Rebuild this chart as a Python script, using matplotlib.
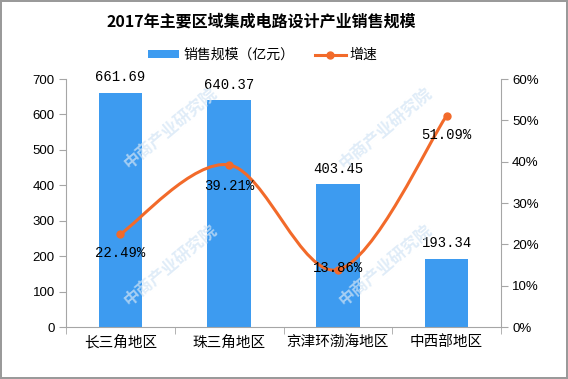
import matplotlib
matplotlib.use("Agg")
import matplotlib.pyplot as plt
from matplotlib.path import Path
from matplotlib.patches import PathPatch
import numpy as np

plt.rcParams['font.family'] = ['Noto Sans CJK SC', 'DejaVu Sans']

# data
regions = ["长三角地区", "珠三角地区", "京津环渤海地区", "中西部地区"]
sales = [661.69, 640.37, 403.45, 193.34]
growth = [22.49, 39.21, 13.86, 51.09]
left_ticks = [0, 100, 200, 300, 400, 500, 600, 700]
right_ticks = [0, 10, 20, 30, 40, 50, 60]

title = "2017年主要区域集成电路设计产业销售规模"
bar_name = "销售规模（亿元）"
line_name = "增速"

bar_color = "#3d9bf0"
line_color = "#f26a2a"
axis_gray = "#a6a6a6"
num_font = "Liberation Mono"


def smooth_path(xs, ys):
    # Catmull-Rom style bezier, like the "smoothed line" option in Excel
    pts = np.column_stack([xs, ys]).astype(float)
    ext = np.vstack([pts[0], pts, pts[-1]])
    verts = [tuple(pts[0])]
    codes = [Path.MOVETO]
    for i in range(len(pts) - 1):
        p0, p1, p2, p3 = ext[i], ext[i + 1], ext[i + 2], ext[i + 3]
        c1 = p1 + (p2 - p0) / 6.0
        c2 = p2 - (p3 - p1) / 6.0
        verts += [tuple(c1), tuple(c2), tuple(p2)]
        codes += [Path.CURVE4] * 3
    return Path(verts, codes)


fig = plt.figure(figsize=(5.68, 3.79), dpi=100)
fig.patch.set_edgecolor("#9a9a9a")
fig.patch.set_linewidth(1.5)

# faint watermark
for wx, wy in [(0.3, 0.66), (0.68, 0.66), (0.3, 0.3), (0.68, 0.3)]:
    fig.text(wx, wy, "中商产业研究院", fontsize=12, color="#d3e5f5", alpha=0.7,
             rotation=40, ha="center", va="center", zorder=0, fontweight="bold")

ax = fig.add_axes([66 / 568, 52 / 379, 435 / 568, 248 / 379])
ax.patch.set_alpha(0)
x = np.arange(len(regions))
bars = ax.bar(x, sales, width=0.4, color=bar_color, label=bar_name, zorder=2)

ax.set_xlim(-0.5, len(regions) - 0.5)
ax.set_ylim(0, 700)
ax.set_yticks(left_ticks)
ax.set_yticklabels([str(t) for t in left_ticks], family="Liberation Sans", fontsize=9.5)
ax.set_xticks(x)
ax.set_xticklabels(regions, fontsize=10.5)
ax.tick_params(axis="x", length=0, pad=6)
ax.set_xticks(np.arange(-0.5, len(regions)), minor=True)
ax.tick_params(axis="x", which="minor", length=5, color=axis_gray, direction="out")
ax.tick_params(axis="y", length=5, color=axis_gray, pad=3)
for s in ["top", "right"]:
    ax.spines[s].set_visible(False)
for s in ["left", "bottom"]:
    ax.spines[s].set_color(axis_gray)

for xi, v in zip(x, sales):
    ax.annotate(f"{v:.2f}", (xi, v), xytext=(0, 6), textcoords="offset points",
                ha="center", va="bottom", family=num_font, fontsize=10)

ax2 = ax.twinx()
ax2.set_ylim(0, 60)
ax2.set_yticks(right_ticks)
ax2.set_yticklabels([f"{t}%" for t in right_ticks], family="Liberation Sans", fontsize=9.5)
ax2.tick_params(axis="y", length=5, color=axis_gray, pad=3)
for s in ["top", "left", "bottom"]:
    ax2.spines[s].set_visible(False)
ax2.spines["right"].set_color(axis_gray)

ax2.add_patch(PathPatch(smooth_path(x, growth), facecolor="none", edgecolor=line_color,
                        linewidth=2.2, capstyle="round", zorder=3))
ax2.plot(x, growth, linestyle="none", marker="o", markersize=5, color=line_color, zorder=4)
line_handle, = ax2.plot([], [], color=line_color, linewidth=2.2, marker="o", markersize=5,
                        label=line_name)

label_offsets = [-14, -15, 1, -14]
for xi, g, dy in zip(x, growth, label_offsets):
    ax2.annotate(f"{g:.2f}%", (xi, g), xytext=(0, dy), textcoords="offset points",
                 ha="center", va="center", family=num_font, fontsize=10, zorder=5)

fig.text(0.46, 0.942, title, ha="center", va="center", fontsize=11.5, fontweight="bold")
fig.legend([bars, line_handle], [bar_name, line_name], loc="center", ncol=2,
           bbox_to_anchor=(0.463, 0.855), frameon=False, fontsize=10,
           handlelength=2.2, handleheight=0.5, columnspacing=1.5, handletextpad=0.3)

fig.savefig("out.png", dpi=100)
